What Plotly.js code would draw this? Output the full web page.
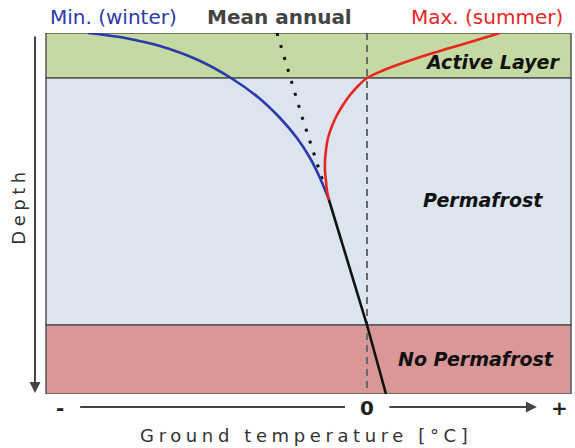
<!DOCTYPE html>
<html>
<head>
<meta charset="utf-8">
<script src="https://cdn.plot.ly/plotly-3.0.1.min.js"></script>
<style>
html, body { margin: 0; padding: 0; background: #fff; }
#chart { width: 575px; height: 448px; }
g.annotation[data-index="0"] text { letter-spacing: 4.6px; }
g.annotation[data-index="1"] text { letter-spacing: 4.5px; }
</style>
</head>
<body>
<div id="chart"></div>
<script>
// Temperature (arbitrary units, 0 = 0 °C) and depth (arbitrary units, downward)
const minTemp  = [-13.95, -12.1, -10.35, -8.45, -6.8, -5.4, -4.35, -3.5, -2.85, -2.35, -1.9];
const minDepth = [0, 0.5, 1.3, 2.7, 4.5, 6.5, 8.5, 10.5, 12.5, 14.5, 16.7];

const maxTemp  = [6.65, 5.0, 3.3, 1.65, 0.8, 0, -0.45, -0.85, -1.2, -1.5, -1.75, -1.95, -2.05, -2.1, -2.1, -2.05, -2.0, -1.9];
const maxDepth = [0, 1.0, 2.0, 3.1, 3.75, 4.5, 5.3, 6.2, 7.2, 8.2, 9.3, 10.5, 11.7, 12.8, 13.8, 14.8, 15.8, 16.7];

const meanTemp  = [-4.5, -3.2, -1.9];
const meanDepth = [0, 8.7, 16.7];

const deepTemp  = [-1.9, 0, 0.95];
const deepDepth = [16.7, 29.2, 36.1];

// Zones: [name, top depth, bottom depth]
const zoneNames  = ["Active Layer", "Permafrost", "No Permafrost"];
const zoneTop    = [0, 4.5, 29.2];
const zoneBottom = [4.5, 29.2, 36.1];
const zoneColors = ["#c5d9a2", "#dbe4ef", "#d99797"];

const seriesLabels = ["Min. (winter)", "Mean annual", "Max. (summer)"];
const xTickLabels = ["-", "0", "+"];
const xTitle = "Ground temperature [°C]";
const yTitle = "Depth";

const FONT = "DejaVu Sans, Liberation Sans, Arial, sans-serif";

const traces = [
  {x: meanTemp, y: meanDepth, mode: "lines", line: {color: "#111", width: 3, dash: "3px,9.5px"}, hoverinfo: "skip"},
  {x: minTemp, y: minDepth, mode: "lines", line: {color: "#2b3aa8", width: 2.6, shape: "spline", smoothing: 1}, hoverinfo: "skip"},
  {x: maxTemp, y: maxDepth, mode: "lines", line: {color: "#e8261f", width: 2.6, shape: "spline", smoothing: 1}, hoverinfo: "skip"},
  {x: deepTemp, y: deepDepth, mode: "lines", line: {color: "#111", width: 2.6}, hoverinfo: "skip"}
];

const shapes = [];
zoneNames.forEach((n, i) => {
  shapes.push({type: "rect", layer: "below", xref: "paper", x0: 0, x1: 1, yref: "y", y0: zoneTop[i], y1: zoneBottom[i],
    fillcolor: zoneColors[i], line: {color: "#555", width: 1.5}});
});
shapes.push({type: "line", layer: "below", xref: "x", x0: 0, x1: 0, yref: "y", y0: 0, y1: 36.1,
  line: {color: "#6a6a6a", width: 2, dash: "7px,5px"}});
// left part of the temperature axis arrow
shapes.push({type: "line", xref: "paper", yref: "paper", x0: 0.065, x1: 0.5695, y0: -0.036, y1: -0.036,
  line: {color: "#444", width: 2}});

const annotations = [
  {text: xTitle, xref: "paper", yref: "paper", x: 0.495, y: -0.114, showarrow: false, xanchor: "center", yanchor: "middle",
    font: {family: FONT, size: 18, color: "#333"}},
  {text: yTitle, xref: "paper", yref: "paper", x: -0.053, y: 0.52, showarrow: false, textangle: -90, xanchor: "center", yanchor: "middle",
    font: {family: FONT, size: 18, color: "#333"}},
  // vertical depth arrow
  {text: "", xref: "paper", yref: "paper", x: -0.021, y: 0.003, ax: 0, ay: -358, axref: "pixel", ayref: "pixel",
    showarrow: true, arrowhead: 2, arrowsize: 1.1, arrowwidth: 2, arrowcolor: "#444"},
  // right temperature arrow
  {text: "", xref: "paper", yref: "paper", x: 0.935, y: -0.036, ax: -149, ay: 0, axref: "pixel", ayref: "pixel",
    showarrow: true, arrowhead: 2, arrowsize: 1.1, arrowwidth: 2, arrowcolor: "#444"},
  {text: xTickLabels[0], xref: "paper", yref: "paper", x: 0.027, y: -0.039, showarrow: false, xanchor: "center", yanchor: "middle",
    font: {family: FONT, size: 20, color: "#222", weight: "bold"}},
  {text: xTickLabels[1], xref: "paper", yref: "paper", x: 0.611, y: -0.039, showarrow: false, xanchor: "center", yanchor: "middle",
    font: {family: FONT, size: 20, color: "#222", weight: "bold"}},
  {text: xTickLabels[2], xref: "paper", yref: "paper", x: 0.979, y: -0.039, showarrow: false, xanchor: "center", yanchor: "middle",
    font: {family: FONT, size: 20, color: "#222", weight: "bold"}},
  {text: seriesLabels[0], xref: "paper", yref: "paper", x: 0.128, y: 1.044, showarrow: false, xanchor: "center", yanchor: "middle",
    font: {family: FONT, size: 20, color: "#2b3aa8"}},
  {text: seriesLabels[1], xref: "paper", yref: "paper", x: 0.4457, y: 1.044, showarrow: false, xanchor: "center", yanchor: "middle",
    font: {family: FONT, size: 20, color: "#444", weight: "bold"}},
  {text: seriesLabels[2], xref: "paper", yref: "paper", x: 0.84, y: 1.044, showarrow: false, xanchor: "center", yanchor: "middle",
    font: {family: FONT, size: 20, color: "#e8261f"}},
  {text: zoneNames[0], xref: "paper", yref: "paper", x: 0.983, y: 0.92, showarrow: false, xanchor: "right", yanchor: "middle",
    font: {family: FONT, size: 19, color: "#111", weight: "bold", style: "italic"}},
  {text: zoneNames[1], xref: "paper", yref: "paper", x: 0.832, y: 0.537, showarrow: false, xanchor: "center", yanchor: "middle",
    font: {family: FONT, size: 19, color: "#111", weight: "bold", style: "italic"}},
  {text: zoneNames[2], xref: "paper", yref: "paper", x: 0.971, y: 0.097, showarrow: false, xanchor: "right", yanchor: "middle",
    font: {family: FONT, size: 19, color: "#111", weight: "bold", style: "italic"}}
];

const layout = {
  width: 575, height: 448,
  margin: {l: 46, r: 4, t: 33, b: 54},
  paper_bgcolor: "#fff", plot_bgcolor: "rgba(0,0,0,0)",
  showlegend: false,
  xaxis: {range: [-16.05, 10.2], visible: false, fixedrange: true},
  yaxis: {range: [36.1, 0], visible: false, fixedrange: true},
  shapes: shapes,
  annotations: annotations
};

Plotly.newPlot("chart", traces, layout, {displayModeBar: false, staticPlot: true});
</script>
</body>
</html>
